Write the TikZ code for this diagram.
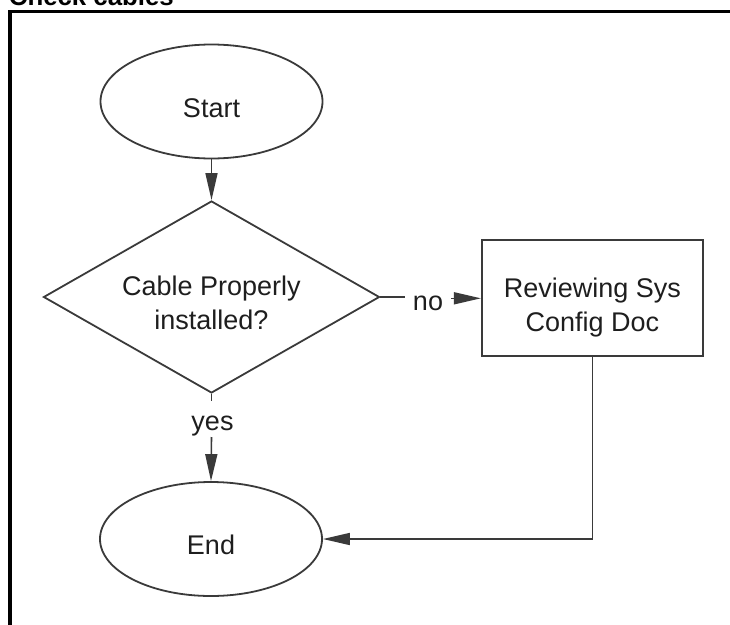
\documentclass[tikz,border=0pt]{standalone}
\usepackage{fontspec}
\setmainfont{Liberation Sans}
\usetikzlibrary{shapes.geometric,arrows.meta}
\definecolor{ink}{HTML}{1E1E1E}
\definecolor{edge}{HTML}{3A3A3A}
\begin{document}
\begin{tikzpicture}[x=1pt,y=-1pt,
  txt/.style={font=\fontsize{27}{34}\selectfont, text=ink, align=center},
  term/.style={txt, ellipse, draw=edge, line width=1.8pt, inner sep=0pt,
    minimum width=222pt, minimum height=114pt},
  decision/.style={txt, diamond, draw=edge, line width=1.8pt, inner sep=0pt,
    aspect=1.755, minimum width=336pt, minimum height=192pt},
  procbox/.style={txt, rectangle, draw=edge, line width=1.8pt, inner sep=0pt,
    minimum width=221pt, minimum height=116pt},
  lbl/.style={font=\fontsize{27}{34}\selectfont, text=ink, inner sep=0pt},
  conn/.style={draw=edge, line width=1.6pt},
  arr/.style={conn, -{Triangle[length=27pt,width=12pt]}},
  frame/.style={draw=black, line width=3.6pt}
]
\useasboundingbox (0,0) rectangle (730,624);
\clip (0,0) rectangle (730,624);

% title and frame
\node[anchor=base west, inner sep=0pt, font=\fontsize{25.8}{30}\selectfont\bfseries, text=black]
  (title) at (8.7,5) {Check cables};
\draw[frame] (740,11.5) -- (10,11.5) -- (10,640);

% nodes
\node[term] (start) at (211.5,101.5) {\rule{0pt}{32pt}Start};
\node[decision] (dec) at (211.5,297) {\rule{0pt}{30.5pt}Cable Properly\\installed?};
\node[procbox] (rev) at (592.3,298.3) {\rule{0pt}{38pt}Reviewing Sys\\Config Doc};
\node[term] (end) at (211,539) {\rule{0pt}{31pt}End};

% labels
\node[lbl, anchor=base, inner xsep=8pt] (no) at (428,310) {no};
\node[lbl, anchor=base] (yes) at (212.5,430) {yes};
\coordinate (ya) at (211.5,401);
\coordinate (yb) at (211.5,437);

% connectors
\draw[arr] (start.south) -- (dec.north);
\draw[conn] (dec.east) -- (dec.east -| no.west);
\draw[arr] (no.east |- rev.west) -- (rev.west);
\draw[conn] (dec.south) -- (ya);
\draw[arr] (yb) -- (end.north);
\draw[arr] (rev.south) |- (end.east);
\end{tikzpicture}
\end{document}
